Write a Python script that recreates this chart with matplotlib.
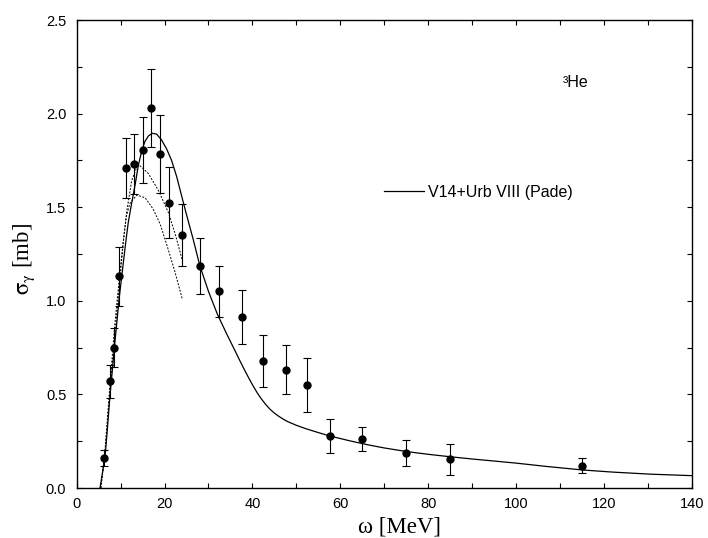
import matplotlib
matplotlib.use("Agg")
import matplotlib.pyplot as plt
from matplotlib.ticker import MultipleLocator

# ---- data -------------------------------------------------------------
exp_x = [6.3, 7.6, 8.5, 9.55, 11.2, 13.0, 15.0, 17.0, 19.0, 21.0, 24.0, 28.0,
         32.5, 37.6, 42.5, 47.6, 52.5, 57.6, 65.0, 75.0, 85.0, 115.0]
exp_y = [0.16, 0.57, 0.75, 1.13, 1.71, 1.73, 1.805, 2.03, 1.785, 1.525, 1.35, 1.185,
         1.05, 0.912, 0.678, 0.633, 0.549, 0.277, 0.26, 0.188, 0.153, 0.12]
exp_err = [0.045, 0.088, 0.105, 0.157, 0.16, 0.16, 0.175, 0.21, 0.21, 0.19, 0.165, 0.15,
           0.137, 0.145, 0.14, 0.13, 0.144, 0.09, 0.065, 0.071, 0.083, 0.04]

pade_x = [5.3, 6.0, 6.5, 7.0, 7.6, 8.2, 8.7, 9.2, 9.7, 10.2, 10.6, 11.2, 11.75, 12.5,
          13.3, 14.0, 14.8, 15.5, 16.3, 17.2, 18.2, 19.3, 20.5, 21.6, 22.8, 24.0,
          25.0, 26.5, 28.0, 30.0, 32.0, 34.0, 36.0, 37.0, 38.0, 39.0, 40.0, 41.0,
          42.0, 43.0, 44.0, 45.0, 46.0, 47.0, 48.0, 50.0, 52.0, 55.0, 57.6, 62.0,
          66.0, 70.0, 75.0, 80.0, 85.0, 90.0, 96.4, 100.0, 107.0, 115.3, 122.0,
          130.5, 140.0]
pade_y = [0.0, 0.10, 0.18, 0.32, 0.50, 0.65, 0.78, 0.90, 1.02, 1.12, 1.20, 1.32, 1.42,
          1.52, 1.62, 1.72, 1.80, 1.85, 1.88, 1.895, 1.89, 1.86, 1.81, 1.75, 1.66,
          1.55, 1.46, 1.33, 1.19, 1.05, 0.93, 0.83, 0.735, 0.687, 0.64, 0.595, 0.552,
          0.512, 0.477, 0.447, 0.421, 0.40, 0.383, 0.368, 0.355, 0.335, 0.318, 0.296,
          0.278, 0.253, 0.232, 0.214, 0.195, 0.180, 0.167, 0.155, 0.141, 0.133,
          0.115, 0.096, 0.085, 0.074, 0.066]

dot1_x = [5.5, 6.5, 7.6, 8.7, 9.7, 10.6, 11.4, 12.5, 13.7, 14.5, 16.3, 18.6, 20.9,
          22.5, 24.0]
dot1_y = [0.0, 0.2, 0.53, 0.82, 1.08, 1.31, 1.48, 1.64, 1.716, 1.72, 1.68, 1.59,
          1.47, 1.35, 1.22]

dot2_x = [5.5, 6.5, 7.6, 8.7, 9.7, 10.6, 11.3, 12.1, 13.7, 15.6, 17.4, 19.0, 20.5,
          22.3, 24.0]
dot2_y = [0.0, 0.22, 0.56, 0.88, 1.12, 1.32, 1.45, 1.52, 1.565, 1.55, 1.49, 1.41,
          1.30, 1.16, 1.013]

legend_label = "V14+Urb VIII (Pade)"
nucleus_label = "\u00b3He"
xlabel = "\u03c9 [MeV]"
ylabel = r"$\mathrm{\sigma}_{\mathrm{\gamma}}$ [mb]"

# ---- figure -----------------------------------------------------------
plt.rcParams["font.family"] = ["Liberation Sans", "DejaVu Sans"]
plt.rcParams["mathtext.fontset"] = "stix"

W, H = 708, 538
fig = plt.figure(figsize=(W / 100, H / 100), dpi=100)
ax = fig.add_axes([76.7 / W, 1 - 488 / H, 615 / W, 468 / H])

ax.plot(pade_x, pade_y, color="black", lw=0.9, label=legend_label, zorder=3)
ax.plot(dot1_x, dot1_y, color="black", lw=0.7, ls=(0, (2, 1.5)), zorder=2)
ax.plot(dot2_x, dot2_y, color="black", lw=0.7, ls=(0, (2, 1.5)), zorder=2)
ax.errorbar(exp_x, exp_y, yerr=exp_err, fmt="o", color="black", ms=5,
            elinewidth=0.8, capsize=2.6, capthick=0.8, zorder=4)

ax.set_xlim(0, 140)
ax.set_ylim(0, 2.5)
ax.xaxis.set_major_locator(MultipleLocator(20))
ax.xaxis.set_minor_locator(MultipleLocator(10))
ax.yaxis.set_major_locator(MultipleLocator(0.5))
ax.yaxis.set_minor_locator(MultipleLocator(0.25))
ax.yaxis.set_major_formatter(plt.FuncFormatter(lambda v, p: f"{v:.1f}"))
ax.tick_params(which="both", direction="in", top=True, right=True,
               length=3.6, width=0.8, labelsize=10.5)
ax.tick_params(axis="x", pad=6.5)
ax.tick_params(axis="y", pad=7.5)
for s in ax.spines.values():
    s.set_linewidth(1.0)

ax.legend(loc="center left", bbox_to_anchor=((384 - 76.7) / 615, (488 - 192) / 468),
          frameon=False, fontsize=11.5, handlelength=2.5, handletextpad=0.25,
          borderpad=0, borderaxespad=0)

ax.text((563 - 76.7) / 615, (488 - 87) / 468, nucleus_label, transform=ax.transAxes,
        fontsize=11.5, ha="left", va="baseline")

fig.text(400 / W, (H - 532) / H, xlabel, ha="center", va="baseline",
         fontsize=16.5, family=["Liberation Serif", "DejaVu Serif"])
fig.text(24.5 / W, 1 - 259 / H, ylabel, ha="center", va="center", rotation=90,
         fontsize=16.5, family=["Liberation Serif", "DejaVu Serif"])

fig.savefig("out.png", dpi=100)
